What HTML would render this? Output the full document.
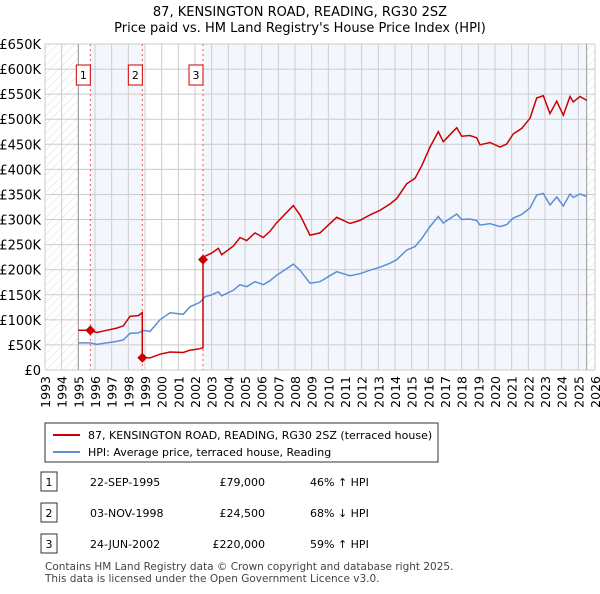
<!DOCTYPE html>
<html><head><meta charset="utf-8"><style>
body{margin:0;background:#fff;font-family:"DejaVu Sans",sans-serif;}
svg text{font-family:"DejaVu Sans",sans-serif;}
</style></head><body>
<svg id="c" width="600" height="590" xmlns="http://www.w3.org/2000/svg">
<defs><pattern id="hatch" width="6" height="6" patternUnits="userSpaceOnUse" patternTransform="rotate(45)"><line x1="0" y1="0" x2="0" y2="6" stroke="#ddd" stroke-width="1"/></pattern></defs>
<text x="300" y="16" text-anchor="middle" font-size="13">87, KENSINGTON ROAD, READING, RG30 2SZ</text>
<text x="300" y="32" text-anchor="middle" font-size="13">Price paid vs. HM Land Registry's House Price Index (HPI)</text>
<g id="plot"></g>
<g>
<rect x="45" y="423" width="393" height="39" fill="#fff" stroke="#333"/>
<line x1="53" y1="435" x2="80" y2="435" stroke="#cc0000" stroke-width="2"/>
<text x="88" y="439" font-size="11">87, KENSINGTON ROAD, READING, RG30 2SZ (terraced house)</text>
<line x1="53" y1="452" x2="80" y2="452" stroke="#5b8fd6" stroke-width="2"/>
<text x="88" y="456" font-size="11">HPI: Average price, terraced house, Reading</text>
</g>
<g id="table"></g>
<text x="45" y="570" font-size="10.5" fill="#444">Contains HM Land Registry data © Crown copyright and database right 2025.</text>
<text x="45" y="582" font-size="10.5" fill="#444">This data is licensed under the Open Government Licence v3.0.</text>
</svg>
<script>
const hpiYears=[1995.0,1995.7,1996.1,1996.7,1997.3,1997.7,1998.1,1998.6,1998.9,1999.3,1999.9,2000.5,2001.3,2001.7,2002.3,2002.6,2003.0,2003.4,2003.6,2004.3,2004.7,2005.1,2005.6,2006.1,2006.5,2006.9,2007.4,2007.9,2008.3,2008.9,2009.5,2010.0,2010.5,2011.3,2011.9,2012.5,2013.1,2013.7,2014.1,2014.7,2015.2,2015.6,2016.1,2016.6,2016.9,2017.3,2017.7,2018.0,2018.5,2018.9,2019.1,2019.7,2020.3,2020.7,2021.1,2021.6,2022.1,2022.5,2022.9,2023.3,2023.7,2024.1,2024.5,2024.7,2025.1,2025.5];
const hpiValues=[54,54,51,54,57,60,73,74,79,77,100,114,111,126,135,146,150,156,148,159,170,166,176,170,178,189,200,211,199,173,176,186,196,188,192,199,205,213,220,239,246,262,286,306,293,302,311,300,301,298,289,292,286,290,303,310,323,349,352,329,345,327,351,344,351,346];
const saleYears=[1995.72,1998.84,2002.48];
const salePrices=[79000,24500,220000];
const saleDates=["22-SEP-1995","03-NOV-1998","24-JUN-2002"];
const salePriceLabels=["£79,000","£24,500","£220,000"];
const saleHpiLabels=["46% ↑ HPI","68% ↓ HPI","59% ↑ HPI"];
const yTicks=[0,50,100,150,200,250,300,350,400,450,500,550,600,650];
const yTickLabels=["£0","£50K","£100K","£150K","£200K","£250K","£300K","£350K","£400K","£450K","£500K","£550K","£600K","£650K"];
const xTickYears=[1993,1994,1995,1996,1997,1998,1999,2000,2001,2002,2003,2004,2005,2006,2007,2008,2009,2010,2011,2012,2013,2014,2015,2016,2017,2018,2019,2020,2021,2022,2023,2024,2025,2026];

const X0=45,X1=595,Y0=370,Y1=44;
const xs=y=>X0+(y-1993)/(2026-1993)*(X1-X0);
const ys=v=>Y0-v/650*(Y0-Y1);
const NS="http://www.w3.org/2000/svg";
const plot=document.getElementById('plot');
function mk(tag,attrs,parent){const e=document.createElementNS(NS,tag);for(const k in attrs)e.setAttribute(k,attrs[k]);(parent||plot).appendChild(e);return e;}
function hpiAt(t){for(let i=0;i<hpiYears.length-1;i++){if(t<=hpiYears[i+1]){const f=(t-hpiYears[i])/(hpiYears[i+1]-hpiYears[i]);return hpiValues[i]+f*(hpiValues[i+1]-hpiValues[i]);}}return hpiValues[hpiValues.length-1];}

let r=mk('rect',{x:X0,y:Y1,width:X1-X0,height:Y0-Y1,fill:'#fff'});


r=mk('rect',{x:xs(1995.72),y:Y1,width:xs(1998.84)-xs(1995.72),height:Y0-Y1,fill:'#f3f6fd'});


r=mk('rect',{x:xs(2002.48),y:Y1,width:xs(2025.5)-xs(2002.48),height:Y0-Y1,fill:'#f3f6fd'});


r=mk('rect',{x:X0,y:Y1,width:xs(1995)-X0,height:Y0-Y1,fill:'url(#hatch)'});


r=mk('rect',{x:xs(2025.5),y:Y1,width:X1-xs(2025.5),height:Y0-Y1,fill:'url(#hatch)'});


yTicks.forEach((v,i)=>{
 const l=mk('line',{x1:X0,x2:X1,y1:ys(v),y2:ys(v),stroke:'#ccc','stroke-width':1});
 
 
 const t=mk('text',{x:41,y:ys(v)+5,'text-anchor':'end','font-size':13});
 t.textContent=yTickLabels[i];
 
 
});
xTickYears.forEach(yr=>{
 const l=mk('line',{x1:xs(yr),x2:xs(yr),y1:Y1,y2:Y0,stroke:'#ccc','stroke-width':1});
 
 
 const t=mk('text',{x:0,y:0,'text-anchor':'end','font-size':12.5,transform:`translate(${xs(yr)+5},376) rotate(-90)`});
 t.textContent=yr;
 
 
});
let l=mk('line',{x1:xs(1995),x2:xs(1995),y1:Y1,y2:Y0,stroke:'#999'});


l=mk('line',{x1:xs(2025.5),x2:xs(2025.5),y1:Y1,y2:Y0,stroke:'#999'});


saleYears.forEach((sy,i)=>{
 const d=mk('line',{x1:xs(sy),x2:xs(sy),y1:Y1,y2:Y0,stroke:'#e55','stroke-dasharray':'2,3','stroke-width':1});
 
 
 const b=mk('rect',{x:xs(sy)-14,y:65,width:14,height:20,fill:'#fff',stroke:'#cc0000'});
 
 
 const t=mk('text',{x:xs(sy)-7,y:79,'text-anchor':'middle','font-size':11});
 t.textContent=String(i+1);
 
 
});
let pts=hpiYears.map((y,i)=>xs(y).toFixed(1)+','+ys(hpiValues[i]).toFixed(1)).join(' ');
const hp=mk('polyline',{points:pts,fill:'none',stroke:'#5b8fd6','stroke-width':1.5});


const ratios=saleYears.map((s,i)=>salePrices[i]/1000/hpiAt(s));
let rp=[];
function seg(a,b,ratio){hpiYears.forEach((y,i)=>{if(y>=a&&y<b)rp.push([y,hpiValues[i]*ratio]);});}
rp.push([1995.0,hpiAt(1995.0)*ratios[0]]);
seg(1995.0001,saleYears[1],ratios[0]);
rp.push([saleYears[1],hpiAt(saleYears[1])*ratios[0]]);
rp.push([saleYears[1],hpiAt(saleYears[1])*ratios[1]]);
seg(saleYears[1],saleYears[2],ratios[1]);
rp.push([saleYears[2],hpiAt(saleYears[2])*ratios[1]]);
rp.push([saleYears[2],hpiAt(saleYears[2])*ratios[2]]);
seg(saleYears[2],2026,ratios[2]);
const pp=mk('polyline',{points:rp.map(p=>xs(p[0]).toFixed(1)+','+ys(p[1]).toFixed(1)).join(' '),fill:'none',stroke:'#cc0000','stroke-width':1.5});


saleYears.forEach((sy,i)=>{
 const cx=xs(sy),cy=ys(salePrices[i]/1000);
 const m=mk('polygon',{points:`${cx},${cy-5} ${cx+5},${cy} ${cx},${cy+5} ${cx-5},${cy}`,fill:'#cc0000'});
 
 
});
const tb=document.getElementById('table');
saleYears.forEach((s,i)=>{
 const yc=482+i*31;
 const b=mk('rect',{x:41,y:yc-10,width:16,height:19,fill:'#fff',stroke:'#333'},tb);
 
 
 const n=mk('text',{x:49,y:yc+4,'text-anchor':'middle','font-size':11},tb);n.textContent=String(i+1);
 
 
 const d=mk('text',{x:90,y:yc+4,'font-size':11},tb);d.textContent=saleDates[i];
 
 
 const p=mk('text',{x:265,y:yc+4,'text-anchor':'end','font-size':11},tb);p.textContent=salePriceLabels[i];
 
 
 const h=mk('text',{x:310,y:yc+4,'font-size':11},tb);h.textContent=saleHpiLabels[i];
 
 
});
</script>
</body></html>
